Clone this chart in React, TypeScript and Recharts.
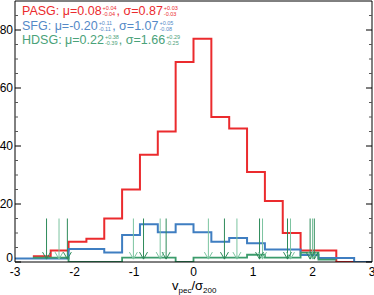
import React from 'react';
import { ComposedChart, Line, XAxis, YAxis, ReferenceLine, Scatter } from 'recharts';

// histogram bins: 0.3 wide, from -3 to 3
const binEdges = [-3, -2.7, -2.4, -2.1, -1.8, -1.5, -1.2, -0.9, -0.6, -0.3, 0, 0.3, 0.6, 0.9, 1.2, 1.5, 1.8, 2.1, 2.4, 2.7, 3];
const pasgCounts = [null, 2, 4, 7, 8, 15, 25, 37, 45, 69, 77, 50, 46, 31, 21, 10, 4, 4, 0, null];
const sfgCounts = [1.2, 1.2, 1.2, 4.5, 4.5, 3.3, 9.3, 13, 10.3, 13, 10.3, 7, 8.3, 6.5, 4.3, 4.3, 2.4, 1.4, 1.4, 0];
const hdsgCounts = [null, 1.5, 1.5, 0, 0, 0, 1.5, 1.5, 1.5, 0, 1.5, 1.5, 1.5, 2.5, 1.5, 1.5, 3.2, 0.8, null, null];

// individual HDSG velocities (arrows)
const hdsgVelocities = [-2.47, -2.26, -2.12, -1.01, -0.84, -0.56, -0.46, 0.25, 0.52, 0.73, 1.11, 1.16, 1.58, 1.63, 1.96, 2.0, 2.03];
const arrowTop = 15;
const arrowTip = 1;

const xTicks = [-3, -2, -1, 0, 1, 2, 3];
const yTicks = [0, 20, 40, 60, 80];
const yMinor = [5, 10, 15, 25, 30, 35, 45, 50, 55, 65, 70, 75, 85];
const xMinorBottom = Array.from({ length: 61 }, (_, i) => Math.round((-3 + i * 0.1) * 10) / 10).filter(v => !Number.isInteger(v));
const xMinorTop = Array.from({ length: 31 }, (_, i) => Math.round((-3 + i * 0.2) * 10) / 10).filter(v => !Number.isInteger(v));

const font = '"Liberation Sans", Arial, Helvetica, sans-serif';
const RED = '#eb2b2e';
const BLUE = '#3f7ec1';
const GREEN = '#3c9c6c';
const GREEN_DARK = '#2e8b5a';
const GREEN_LIGHT = '#7cc4a0';
const THIN = 0.01; // mirrored tick-only axes take no room

function toSteps(counts: (number | null)[]) {
  const pts: { x: number; y: number }[] = [];
  let last = -1;
  counts.forEach((c, i) => {
    if (c !== null) {
      pts.push({ x: binEdges[i], y: c });
      last = i;
    }
  });
  if (last >= 0) pts.push({ x: binEdges[last + 1], y: counts[last] as number });
  return pts;
}

const pasgSteps = toSteps(pasgCounts);
const sfgSteps = toSteps(sfgCounts);
const hdsgSteps = toSteps(hdsgCounts);
const arrowsDark = hdsgVelocities.filter((_, i) => i % 2 === 0).map(v => ({ x: v, y: arrowTip }));
const arrowsLight = hdsgVelocities.filter((_, i) => i % 2 === 1).map(v => ({ x: v, y: arrowTip }));

const makeArrow = (color: string) => (props: any) => {
  const { cx, cy } = props;
  return <path d={`M${cx - 4},${cy - 7} L${cx},${cy} L${cx + 4},${cy - 7}`} stroke={color} strokeWidth={1} fill="none" />;
};

const NoLabel = () => <g />;

// the "0" label sits a little above its tick, as in the original plot
const YTick = (props: any) => {
  const { x, y, payload } = props;
  return (
    <text x={x} y={payload.value === 0 ? y - 4 : y} dy="0.355em" textAnchor="end" fontSize={12} fontFamily={font} fill="#000">
      {payload.value}
    </text>
  );
};

const Stack = ({ up, down }: { up: string; down: string }) => (
  <span style={{ display: 'flex', flexDirection: 'column', fontSize: 5.5, lineHeight: '6px', marginLeft: 1, marginBottom: 1.5 }}>
    <span>{up}</span>
    <span>{down}</span>
  </span>
);

const LegendLine = ({ top, color, name, mu, muUp, muDown, sigma, sigUp, sigDown }: any) => (
  <div style={{ position: 'absolute', left: 22, top, display: 'flex', alignItems: 'flex-end', color, fontFamily: font, fontSize: 12.5, lineHeight: '13px', whiteSpace: 'nowrap' }}>
    <span>{name}: μ={mu}</span>
    <Stack up={muUp} down={muDown} />
    <span>, σ={sigma}</span>
    <Stack up={sigUp} down={sigDown} />
  </div>
);

const tickStyle = { fontSize: 12, fill: '#000', fontFamily: font };

export default function App() {
  return (
    <div style={{ position: 'relative', width: 374, height: 295, background: '#fff' }}>
      <style>{`body{margin:0;}`}</style>
      <ComposedChart width={374} height={295} margin={{ top: 1, right: 2, bottom: 3, left: 0 }}>
        <XAxis xAxisId={0} dataKey="x" type="number" domain={[-3, 3]} ticks={xTicks} interval={0} allowDataOverflow
          tickLine={false} tickSize={0} tickMargin={5} height={30} axisLine={{ stroke: '#000' }} tick={tickStyle} />
        <XAxis xAxisId="bMaj" type="number" domain={[-3, 3]} ticks={xTicks} interval={0} allowDataOverflow
          mirror height={THIN} tick={NoLabel} tickSize={6} axisLine={false} tickLine={{ stroke: '#000' }} />
        <XAxis xAxisId="bMin" type="number" domain={[-3, 3]} ticks={xMinorBottom} interval={0} allowDataOverflow
          mirror height={THIN} tick={NoLabel} tickSize={3} axisLine={false} tickLine={{ stroke: '#333' }} />
        <XAxis xAxisId="tMaj" orientation="top" type="number" domain={[-3, 3]} ticks={xTicks} interval={0} allowDataOverflow
          mirror height={THIN} tick={NoLabel} tickSize={6} axisLine={{ stroke: '#000' }} tickLine={{ stroke: '#000' }} />
        <XAxis xAxisId="tMin" orientation="top" type="number" domain={[-3, 3]} ticks={xMinorTop} interval={0} allowDataOverflow
          mirror height={THIN} tick={NoLabel} tickSize={3} axisLine={false} tickLine={{ stroke: '#555' }} />

        <YAxis yAxisId={0} dataKey="y" type="number" domain={[0, 90]} ticks={yTicks} interval={0} allowDataOverflow
          width={15} tickLine={false} tickSize={0} tickMargin={2} axisLine={{ stroke: '#000' }} tick={YTick} />
        <YAxis yAxisId="lMaj" type="number" domain={[0, 90]} ticks={yTicks} interval={0} allowDataOverflow
          mirror width={THIN} tick={NoLabel} tickSize={6} axisLine={false} tickLine={{ stroke: '#000' }} />
        <YAxis yAxisId="lMin" type="number" domain={[0, 90]} ticks={yMinor} interval={0} allowDataOverflow
          mirror width={THIN} tick={NoLabel} tickSize={3} axisLine={false} tickLine={{ stroke: '#555' }} />
        <YAxis yAxisId="rMaj" orientation="right" type="number" domain={[0, 90]} ticks={yTicks} interval={0} allowDataOverflow
          mirror width={THIN} tick={NoLabel} tickSize={6} axisLine={{ stroke: '#000' }} tickLine={{ stroke: '#000' }} />
        <YAxis yAxisId="rMin" orientation="right" type="number" domain={[0, 90]} ticks={yMinor} interval={0} allowDataOverflow
          mirror width={THIN} tick={NoLabel} tickSize={3} axisLine={false} tickLine={{ stroke: '#555' }} />

        <Line data={pasgSteps} dataKey="y" type="stepAfter" stroke={RED} strokeWidth={2} dot={false} isAnimationActive={false} />
        <Line data={sfgSteps} dataKey="y" type="stepAfter" stroke={BLUE} strokeWidth={2} dot={false} isAnimationActive={false} />
        <Line data={hdsgSteps} dataKey="y" type="stepAfter" stroke={GREEN} strokeWidth={1.8} dot={false} isAnimationActive={false} />

        {hdsgVelocities.map((v, i) => (
          <ReferenceLine key={i} segment={[{ x: v, y: arrowTip }, { x: v, y: arrowTop }]}
            stroke={i % 2 === 0 ? GREEN_DARK : GREEN_LIGHT} strokeWidth={1} />
        ))}
        <Scatter data={arrowsDark} shape={makeArrow(GREEN_DARK)} isAnimationActive={false} />
        <Scatter data={arrowsLight} shape={makeArrow(GREEN_LIGHT)} isAnimationActive={false} />
      </ComposedChart>

      <LegendLine top={4.5} color={RED} name="PASG" mu="0.08" muUp="+0.04" muDown="-0.04" sigma="0.87" sigUp="+0.03" sigDown="-0.03" />
      <LegendLine top={19.5} color="#5489c7" name="SFG" mu="-0.20" muUp="+0.11" muDown="-0.11" sigma="1.07" sigUp="+0.05" sigDown="-0.08" />
      <LegendLine top={33.5} color="#4aa279" name="HDSG" mu="0.22" muUp="+0.38" muDown="-0.39" sigma="1.66" sigUp="+0.29" sigDown="-0.25" />

      <div style={{ position: 'absolute', left: 172, top: 279, fontFamily: font, fontSize: 13, lineHeight: '14px', color: '#000', whiteSpace: 'nowrap' }}>
        v<span style={{ fontSize: 8, position: 'relative', top: 3 }}>pec</span>/σ<span style={{ fontSize: 8, position: 'relative', top: 3 }}>200</span>
      </div>
    </div>
  );
}
